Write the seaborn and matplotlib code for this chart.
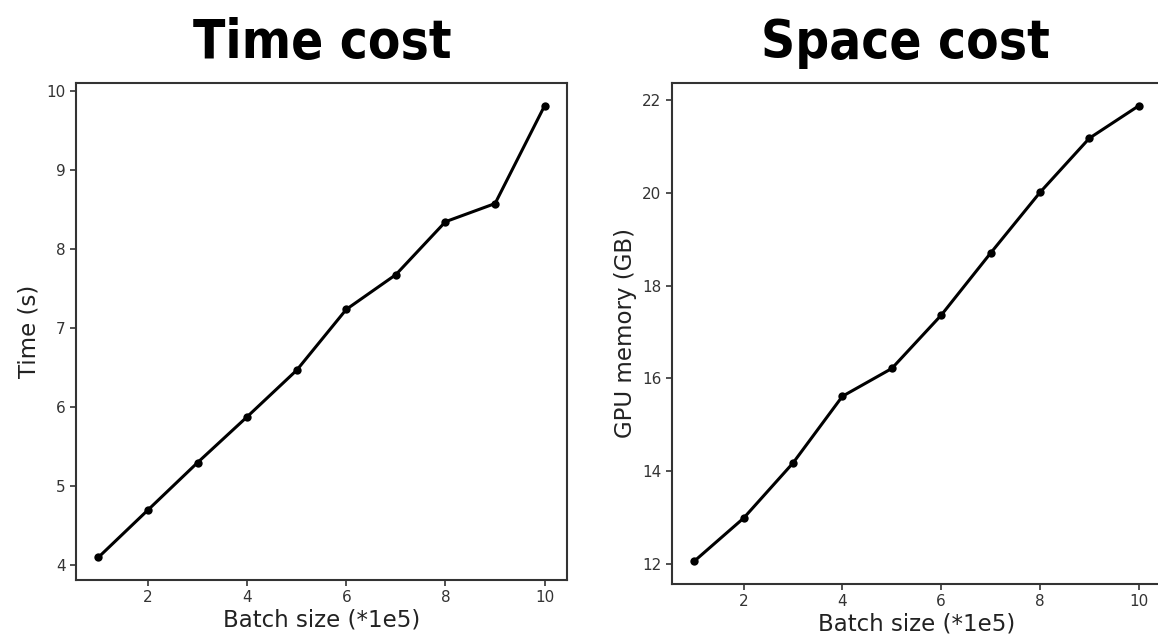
import numpy as np
import pandas as pd
import matplotlib
matplotlib.use("Agg")
import matplotlib.pyplot as plt
import seaborn as sns

batch = [1, 2, 3, 4, 5, 6, 7, 8, 9, 10]
time_s = [4.10, 4.70, 5.30, 5.88, 6.47, 7.24, 7.68, 8.35, 8.58, 9.82]
gpu_gb = [12.05, 12.98, 14.17, 15.61, 16.21, 17.36, 18.70, 20.01, 21.18, 21.88]

df = pd.DataFrame({"batch": batch, "time": time_s, "gpu": gpu_gb})

sns.set_theme(style="ticks", rc={
    "axes.edgecolor": "#333333",
    "axes.linewidth": 1.5,
    "xtick.major.size": 4,
    "ytick.major.size": 4,
    "xtick.major.width": 1.2,
    "ytick.major.width": 1.2,
    "xtick.color": "#333333",
    "ytick.color": "#333333",
    "xtick.labelsize": 11,
    "ytick.labelsize": 11,
    "axes.labelsize": 16.5,
    "axes.labelcolor": "#222222",
})
plt.rcParams["font.family"] = ["DejaVu Sans"]

W, H = 1158, 640
fig = plt.figure(figsize=(W / 100, H / 100), dpi=100)

def box(x0, y0, x1, y1):
    return [x0 / W, 1 - y1 / H, (x1 - x0) / W, (y1 - y0) / H]

ax1 = fig.add_axes(box(76, 83, 567, 580))
ax2 = fig.add_axes(box(672, 83, 1161, 584))

sns.lineplot(data=df, x="batch", y="time", ax=ax1, color="black", linewidth=2.2,
             marker="o", markersize=6, markeredgewidth=0)
sns.lineplot(data=df, x="batch", y="gpu", ax=ax2, color="black", linewidth=2.2,
             marker="o", markersize=6, markeredgewidth=0)

ax1.set_xlabel("Batch size (*1e5)", labelpad=2)
ax1.set_ylabel("Time (s)")
ax2.set_xlabel("Batch size (*1e5)", labelpad=2)
ax2.set_ylabel("GPU memory (GB)")

ax1.set_xticks([2, 4, 6, 8, 10])
ax2.set_xticks([2, 4, 6, 8, 10])
ax1.set_yticks([4, 5, 6, 7, 8, 9, 10])
ax2.set_yticks([12, 14, 16, 18, 20, 22])

# titles in a narrow bold face
fig.text(322 / W, 1 - 58 / H, "Time cost", ha="center", va="baseline",
         fontsize=38, fontweight="bold", family="DejaVu Sans",
         fontstretch="condensed", color="black")
fig.text(905 / W, 1 - 58 / H, "Space cost", ha="center", va="baseline",
         fontsize=38, fontweight="bold", family="DejaVu Sans",
         fontstretch="condensed", color="black")

fig.savefig("out.png", dpi=100)
